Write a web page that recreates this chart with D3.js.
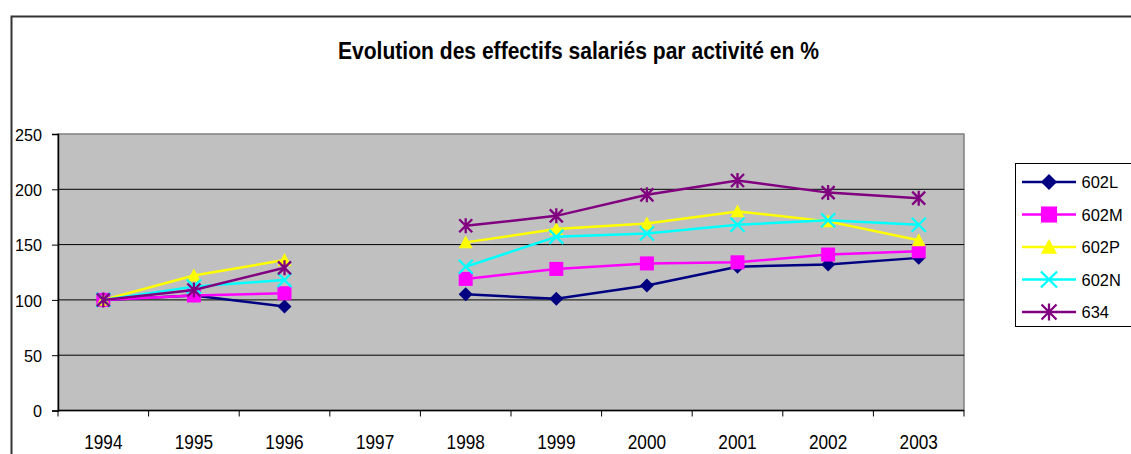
<!DOCTYPE html>
<html>
<head>
<meta charset="utf-8">
<script src="https://cdn.jsdelivr.net/npm/d3@7"></script>
<style>
  body { margin: 0; background: #fff; }
  svg text { font-family: "Liberation Sans", Arial, sans-serif; }
</style>
</head>
<body>
<svg id="chart" width="1131" height="454"></svg>
<script>
const years = ["1994","1995","1996","1997","1998","1999","2000","2001","2002","2003"];
const yTicks = [0, 50, 100, 150, 200, 250];
const seriesNames = ["602L", "602M", "602P", "602N", "634"];
const s602L = [100, 104, 94, null, 105, 101, 113, 130, 132, 138];
const s602M = [100, 104, 106, null, 119, 128, 133, 134, 141, 144];
const s602P = [100, 122, 136, null, 152, 164, 169, 180, 171, 154];
const s602N = [100, 112, 118, null, 130, 157, 160, 168, 172, 168];
const s634  = [100, 109, 129, null, 167, 176, 195, 208, 197, 192];
const seriesValues = [s602L, s602M, s602P, s602N, s634];
const colors = ["#000080", "#FF00FF", "#FFFF00", "#00FFFF", "#800080"];
const markers = ["diamond", "square", "triangle", "x", "asterisk"];
const title = "Evolution des effectifs salariés par activité en %";

const svg = d3.select("#chart");
const pLeft = 58, pRight = 964, pTop = 134, pBottom = 410.5;

const x = d3.scaleBand().domain(years).range([pLeft, pRight]).padding(0);
const y = d3.scaleLinear().domain([0, 250]).range([pBottom, pTop]);

// narrow text helper: compress glyphs horizontally
function narrow(sel, factor) {
  sel.each(function () {
    const w = this.getComputedTextLength();
    d3.select(this).attr("textLength", w * factor).attr("lengthAdjust", "spacingAndGlyphs");
  });
}

// outer frame
svg.append("path").attr("d", `M11.5,460 L11.5,16.5 L1135,16.5`)
  .attr("fill", "none").attr("stroke", "#333").attr("stroke-width", 2);

// title
svg.append("text").attr("x", 578.5).attr("y", 59).attr("text-anchor", "middle")
  .attr("font-size", 23).attr("font-weight", "bold").attr("fill", "#000")
  .attr("textLength", 481).attr("lengthAdjust", "spacingAndGlyphs").text(title);

// plot bg
svg.append("rect").attr("x", pLeft).attr("y", pTop).attr("width", pRight - pLeft).attr("height", pBottom - pTop)
  .attr("fill", "#c0c0c0").attr("stroke", "#808080").attr("stroke-width", 1.5);

// gridlines
svg.append("g").selectAll("line").data(yTicks.filter(d => d > 0 && d < 250)).join("line")
  .attr("x1", pLeft).attr("x2", pRight).attr("y1", d => y(d)).attr("y2", d => y(d))
  .attr("stroke", "#000").attr("stroke-width", 1);

// y axis
const yAxis = d3.axisLeft(y).tickValues(yTicks).tickSize(6).tickPadding(10);
const gy = svg.append("g").attr("transform", `translate(${pLeft},0)`).call(yAxis);
gy.select(".domain").attr("stroke", "#000").attr("stroke-width", 1.5);
gy.selectAll("text").attr("font-size", 17).attr("fill", "#000").attr("dy", "0.36em").call(narrow, 0.95);
gy.selectAll(".tick line").attr("stroke", "#000");

// x axis: labels at centers, ticks at boundaries
const xAxis = d3.axisBottom(x).tickSize(0).tickPadding(24);
const gx = svg.append("g").attr("transform", `translate(0,${pBottom})`).call(xAxis);
gx.select(".domain").remove();
gx.selectAll("text").attr("font-size", 21).attr("fill", "#000").call(narrow, 0.82);
const bounds = years.map(d => x(d)).concat([pRight]);
svg.append("line").attr("x1", pLeft).attr("x2", pRight).attr("y1", pBottom).attr("y2", pBottom)
  .attr("stroke", "#000").attr("stroke-width", 1.5);
svg.append("g").selectAll("line").data(bounds).join("line")
  .attr("x1", d => d).attr("x2", d => d).attr("y1", pBottom).attr("y2", pBottom + 6)
  .attr("stroke", "#000").attr("stroke-width", 1);

// marker drawing
function drawMarker(g, type, color, cx, cy, k = 1) {
  if (type === "diamond") {
    const s = 7 * k;
    g.append("path").attr("d", `M${cx},${cy - s} L${cx + s},${cy} L${cx},${cy + s} L${cx - s},${cy} Z`)
      .attr("fill", color);
  } else if (type === "square") {
    const s = 7 * k;
    g.append("rect").attr("x", cx - s).attr("y", cy - s).attr("width", 2 * s).attr("height", 2 * s)
      .attr("fill", color);
  } else if (type === "triangle") {
    const s = 7 * k;
    g.append("path").attr("d", `M${cx},${cy - s} L${cx + s},${cy + s * 0.85} L${cx - s},${cy + s * 0.85} Z`)
      .attr("fill", color);
  } else if (type === "x") {
    const s = 7 * k;
    g.append("path").attr("d", `M${cx - s},${cy - s} L${cx + s},${cy + s} M${cx - s},${cy + s} L${cx + s},${cy - s}`)
      .attr("stroke", color).attr("stroke-width", 2.3).attr("fill", "none");
  } else if (type === "asterisk") {
    const s = 6.5 * k;
    g.append("path").attr("d", `M${cx - s},${cy - s} L${cx + s},${cy + s} M${cx - s},${cy + s} L${cx + s},${cy - s} M${cx},${cy - s - 1} L${cx},${cy + s + 1}`)
      .attr("stroke", color).attr("stroke-width", 2.3).attr("fill", "none");
  }
}

// series
const line = d3.line().defined(d => d.v !== null)
  .x(d => x(d.year) + x.bandwidth() / 2).y(d => y(d.v));
seriesNames.forEach((name, i) => {
  const data = years.map((yr, j) => ({ year: yr, v: seriesValues[i][j] }));
  const g = svg.append("g");
  g.append("path").datum(data).attr("d", line).attr("fill", "none")
    .attr("stroke", colors[i]).attr("stroke-width", 2.5);
  data.filter(d => d.v !== null).forEach(d => {
    drawMarker(g, markers[i], colors[i], x(d.year) + x.bandwidth() / 2, y(d.v));
  });
});

// legend
const lg = svg.append("g");
lg.append("rect").attr("x", 1015.5).attr("y", 163.5).attr("width", 130).attr("height", 163)
  .attr("fill", "#fff").attr("stroke", "#000").attr("stroke-width", 1);
seriesNames.forEach((name, i) => {
  const ly = 182 + i * 32.5;
  lg.append("line").attr("x1", 1022).attr("x2", 1076).attr("y1", ly).attr("y2", ly)
    .attr("stroke", colors[i]).attr("stroke-width", 2.5);
  drawMarker(lg, markers[i], colors[i], 1049, ly, 1.15);
  lg.append("text").attr("x", 1081.5).attr("y", ly + 6.2).attr("font-size", 17.3).attr("fill", "#000")
    .text(name).call(narrow, 0.95);
});
</script>
</body>
</html>
